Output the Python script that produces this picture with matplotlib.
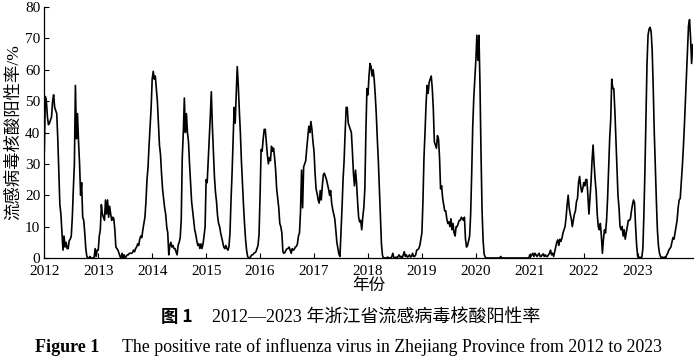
import matplotlib
matplotlib.use("Agg")
import matplotlib.pyplot as plt
import numpy as np

# Weekly influenza nucleic-acid positive rate (%) in Zhejiang
w2012 = [34, 51.5, 50, 45, 42.5, 43, 44, 45, 50, 52, 48, 47, 46, 38, 27, 17, 14, 8, 2.5, 7,
         3.5, 5, 3, 3, 5.5, 6, 7, 13, 22, 30, 55, 38, 46, 37, 30, 20, 24, 13, 12, 8,
         3, 0.5, 0, 0, 0.5, 0, 0, 0, 0, 3, 0.5, 2.5]
w2013 = [2.5, 7, 9, 17, 14, 13, 12, 18.5, 14, 18.5, 13, 16.5, 14, 12, 13, 12.5, 9, 3.5, 3, 2.5,
         1.5, 0.5, 0, 1.5, 0, 1, 0, 0.5, 1, 1, 1.5, 1.5, 1.5, 1.7, 2.5, 2, 3, 3.5, 4.5, 4,
         6, 7, 6.5, 9, 11, 13, 18, 25, 29, 36, 42, 48]
w2014 = [57, 59.5, 57, 58, 54, 50, 43, 36, 33, 27, 22, 19, 16, 14, 10, 8, 1, 4, 5, 3.5,
         4, 3, 3, 2, 1, 4, 5, 6.5, 12, 32, 40, 51, 40, 46, 40, 37, 30, 24, 18, 15,
         12, 9, 7.5, 5.5, 4, 4.5, 3, 4.5, 3, 4.5, 7, 10]
w2015 = [25, 24, 31, 38, 45, 53, 42, 34, 26, 21, 18, 13.5, 11, 10, 8, 6.5, 5, 3.5, 3, 4,
         3, 2.5, 3.6, 8, 18.5, 27, 38, 48, 43, 52, 61, 55, 47, 40, 31, 24, 17, 11, 6, 2.5,
         0.5, 0, 0, 0.5, 1, 1, 1.5, 1.7, 2, 3, 4, 7.5]
w2016 = [20, 34.6, 34, 38, 41, 41, 37, 33, 30, 32, 31, 35.6, 34, 35, 32, 28, 22, 19, 16, 11,
         10, 8, 2, 1.5, 1.8, 2.5, 3, 3, 3.5, 2.5, 1.5, 3, 2.5, 2.8, 3.5, 3.7, 4.5, 7, 8, 15,
         28, 16, 29, 30, 31, 35, 38.5, 42, 40, 43.5, 41, 37]
w2017 = [34, 27, 22, 20.5, 18.5, 17.5, 21.5, 18.5, 23, 26.5, 27, 26, 25, 23.5, 22, 20, 21.5, 17.5, 15.5, 14,
         12.5, 9, 5, 3, 1.2, 0.5, 8, 16, 25, 31, 40, 48, 48, 43, 42, 41, 40, 34, 27, 23,
         28, 24, 18, 13, 11.5, 12, 9, 13, 16, 22, 40, 54]
w2018 = [52, 58, 62, 61, 58, 60, 57, 52, 46, 38, 31, 22, 13, 4.5, 0.8, 0, 0, 0, 0, 0.3,
         0, 0, 0, 0.5, 1.5, 0, 0, 0.3, 0, 0.5, 1, 0.3, 0.5, 0, 1, 2, 0.5, 1, 0.3, 0.5,
         1, 0.3, 0.5, 1.5, 0.5, 0.5, 1, 2.5, 2.7, 3, 4, 6]
w2019 = [8, 18, 32, 40, 49, 55, 52.5, 56, 57, 58, 54, 47.5, 37, 36, 35, 39, 38, 32, 22, 23,
         19, 17, 15, 15, 12.5, 11, 11.5, 10, 12.5, 9, 11, 8, 7, 10, 10, 11, 12, 12, 13, 12.5,
         12, 13, 6, 3.5, 4, 5.5, 7, 14, 27, 42, 51, 57]
w2020 = [63, 71, 63, 71, 55, 33, 15, 5.5, 1.2, 0.3, 0, 0, 0, 0, 0, 0, 0, 0, 0, 0,
         0, 0, 0, 0, 0.5, 0, 0, 0, 0, 0, 0, 0, 0, 0, 0, 0, 0, 0, 0, 0,
         0, 0, 0, 0, 0, 0, 0, 0, 0, 0, 0, 0]
w2021 = [1, 0.5, 1, 1.5, 0.5, 1.5, 1, 0.5, 1, 1.5, 0.5, 0.5, 1, 1.3, 0.5, 1, 0.5, 0.5, 1, 1.5,
         2.5, 1, 1.5, 0.5, 2, 3.5, 5, 5.8, 4, 6, 5.3, 6.3, 8, 9, 10, 13, 17, 20, 16, 14,
         12.5, 10, 12, 14, 15, 18, 19, 24, 26, 23, 21, 22]
w2022 = [24, 23, 25, 25, 20, 14, 19, 24, 31, 36, 30, 25, 21, 14, 10, 9, 11, 7, 1.5, 6,
         9, 8, 12, 19, 29, 38, 44, 57, 54, 54, 47, 38, 29, 20, 16, 10, 9, 10, 7, 9,
         6, 8, 10, 12, 12, 12.5, 15, 17, 18.5, 17.5, 10, 4]
w2023 = [0.5, 0, 0.3, 0, 0.3, 3, 14, 28, 45, 62, 71, 73, 73.5, 72, 66, 54, 40, 29, 18.5, 9,
         4, 1.5, 0.5, 0, 0.3, 0, 0.3, 0, 1, 1.5, 2.5, 3, 3.5, 5, 6.5, 6, 8, 10, 12, 16,
         18.5, 19, 24, 29, 35, 42, 50, 58, 66, 74, 76, 70, 62, 68]

years = list(range(2012, 2024))
year_tick_labels = [str(y) for y in years]
yticks = [0, 10, 20, 30, 40, 50, 60, 70, 80]

series = [w2012, w2013, w2014, w2015, w2016, w2017, w2018, w2019, w2020, w2021, w2022, w2023]
t = []
v = []
for yr, vals in zip(years, series):
    for k, val in enumerate(vals):
        t.append(yr + k / 52.0)
        v.append(val)

serif = ['Liberation Serif', 'Noto Sans CJK SC']
plt.rcParams['font.family'] = serif

W, H = 697, 359
fig = plt.figure(figsize=(W / 100, H / 100), dpi=100)
ax = fig.add_axes([44.3 / W, 1 - 258 / H, (692.7 - 44.3) / W, (258 - 7) / H])

ax.plot(t, v, color='black', linewidth=1.2)
ax.set_xlim(2012, 2024.02)
ax.set_ylim(0, 80)
ax.set_xticks(years)
ax.set_xticklabels(year_tick_labels)
ax.set_yticks(yticks)
ax.tick_params(direction='in', length=3.5, width=0.8, labelsize=11)
ax.tick_params(axis='x', pad=5)
ax.tick_params(axis='y', pad=3)
for s in ['top', 'right']:
    ax.spines[s].set_visible(False)
for s in ['left', 'bottom']:
    ax.spines[s].set_linewidth(0.9)

ax.set_ylabel('流感病毒核酸阳性率/%', fontsize=12.5, family=serif)
ax.yaxis.set_label_coords(-0.035, 0.5)

fig.text(369 / W, 1 - 286 / H, '年份', fontsize=12, family=serif, ha='center', va='center')

fig.text(161 / W, 1 - 317 / H, '图 1', fontsize=12.5, fontweight='bold',
         family=['Noto Sans CJK SC'], ha='left', va='center')
fig.text(212 / W, 1 - 317 / H, '2012—2023 年浙江省流感病毒核酸阳性率', fontsize=13,
         family=serif, ha='left', va='center')
fig.text(35 / W, 1 - 347 / H, 'Figure 1', fontsize=13, fontweight='bold',
         family=serif, ha='left', va='center')
fig.text(122 / W, 1 - 347 / H,
         'The positive rate of influenza virus in Zhejiang Province from 2012 to 2023',
         fontsize=12.8, family=serif, ha='left', va='center')

fig.savefig('out.png', dpi=100)
